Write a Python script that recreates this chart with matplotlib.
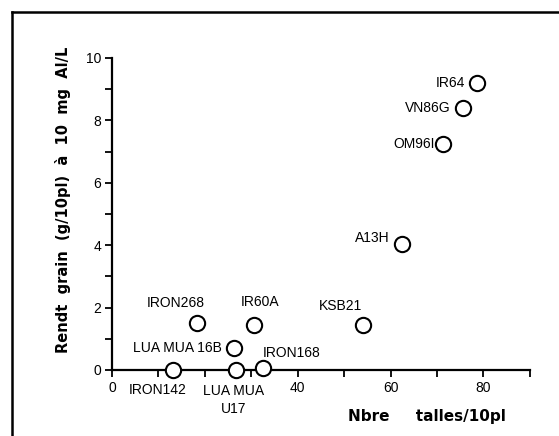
import matplotlib.pyplot as plt
from matplotlib.lines import Line2D

plt.rcParams['font.family'] = ['Liberation Sans', 'DejaVu Sans']

names = ['IR64', 'VN86G', 'OM96I', 'A13H', 'KSB21', 'IRON268', 'IR60A',
         'LUA MUA 16B', 'IRON142', 'LUA MUA\nU17', 'IRON168']
talles = [78.5, 75.6, 71.3, 62.4, 54.1, 18.3, 30.5, 26.3, 13.2, 26.6, 32.5]
rendt = [9.2, 8.4, 7.25, 4.05, 1.45, 1.5, 1.45, 0.72, 0.0, 0.0, 0.05]

# label offsets in pixels (dx, dy) and alignment
offsets = [(-11, 0, 'right', 'center'), (-13, 0, 'right', 'center'),
           (-8, 0, 'right', 'center'), (-12, 6, 'right', 'center'),
           (-23, 19, 'center', 'center'), (-21, 20, 'center', 'center'),
           (6, 23, 'center', 'center'), (-12, 0, 'right', 'center'),
           (-16, -20, 'center', 'center'), (-2, -30, 'center', 'center'),
           (0, 15, 'left', 'center')]

fig = plt.figure(figsize=(5.59, 4.36), dpi=100)
ax = fig.add_axes([0.2004, 0.1514, 0.7476, 0.7156])

ax.plot(talles, rendt, 'o', ms=11, mfc='white', mec='black', mew=1.5,
        linestyle='none', zorder=3)

for n, x, y, (dx, dy, ha, va) in zip(names, talles, rendt, offsets):
    ax.annotate(n, (x, y), xytext=(dx, dy), textcoords='offset pixels',
                ha=ha, va=va, fontsize=10, linespacing=1.3)

ax.set_xlim(0, 90)
ax.set_ylim(0, 10)
ax.set_xticks([0, 20, 40, 60, 80])
ax.set_xticklabels(['0', '', '40', '60', '80'])
ax.set_xticks([10, 30, 50, 70, 90], minor=True)
ax.set_yticks([0, 2, 4, 6, 8, 10])
ax.set_yticks([1, 3, 5, 7, 9], minor=True)
ax.spines['top'].set_visible(False)
ax.spines['right'].set_visible(False)
for s in ['left', 'bottom']:
    ax.spines[s].set_linewidth(1.6)
ax.tick_params(which='both', direction='out', length=5, width=1.3,
               labelsize=10, pad=3)
for sp in ax.spines.values():
    sp.set_clip_on(False)
for p in ax.lines:
    p.set_clip_on(False)

fig.text(0.6225, 0.044, 'Nbre     talles/10pl', fontsize=11, fontweight='bold',
         family='DejaVu Sans', ha='left', va='center')
fig.text(0.113, 0.541, 'Rendt  grain  (g/10pl)  à  10  mg  Al/L',
         fontsize=10.5, fontweight='bold', family='DejaVu Sans',
         rotation=90, ha='center', va='center')

# outer frame (left and top edges only)
fig.add_artist(Line2D([12 / 559, 12 / 559], [0, 1 - 12 / 436],
                      transform=fig.transFigure, color='black', lw=1.8))
fig.add_artist(Line2D([12 / 559, 1], [1 - 12 / 436, 1 - 12 / 436],
                      transform=fig.transFigure, color='black', lw=1.8))

fig.savefig('out.png', dpi=100)
